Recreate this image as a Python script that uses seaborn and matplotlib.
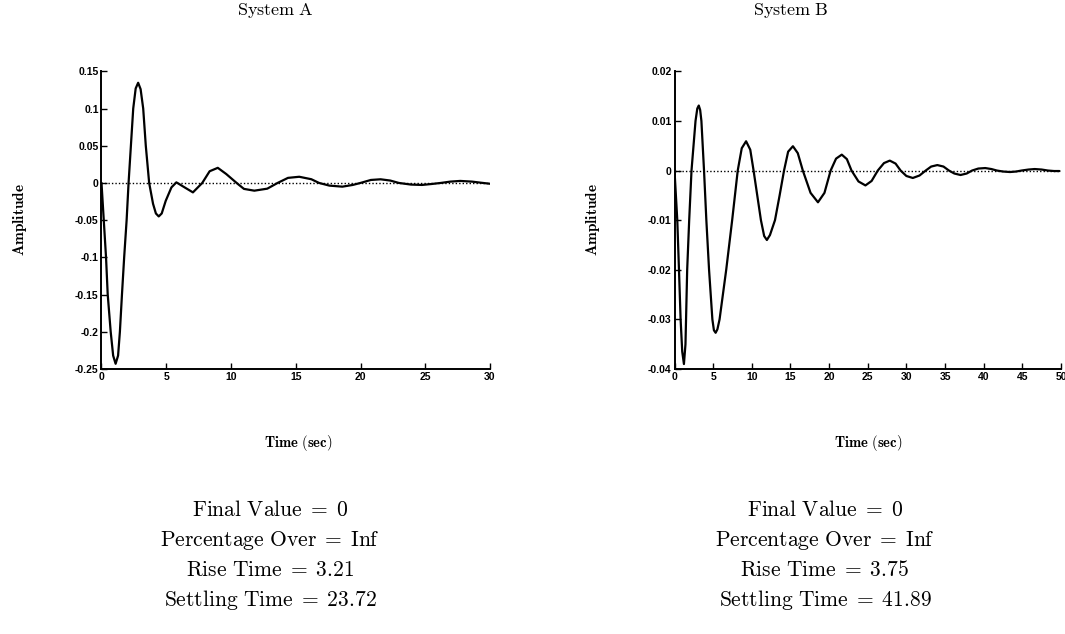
import matplotlib
matplotlib.use("Agg")
import matplotlib.pyplot as plt
import seaborn as sns
import pandas as pd

# ---------------- data ----------------
time_a = [0.0, 0.35, 0.48, 0.71, 0.9, 1.09, 1.28, 1.42, 1.58, 1.75, 1.94, 2.09, 2.27, 2.45,
          2.64, 2.83, 3.02, 3.22, 3.42, 3.68, 3.98, 4.2, 4.42, 4.65, 4.96, 5.4, 5.78, 6.42,
          7.06, 7.78, 8.35, 8.98, 9.63, 10.5, 11.0, 11.8, 12.8, 13.6, 14.4, 15.27, 16.2,
          16.8, 17.6, 18.6, 19.4, 20.0, 20.8, 21.55, 22.3, 22.96, 23.9, 24.75, 25.5, 26.2,
          26.95, 27.7, 28.6, 29.3, 30.0]
amp_a = [0.0, -0.1, -0.15, -0.2, -0.232, -0.243, -0.232, -0.2, -0.15, -0.1, -0.05, 0.0,
         0.05, 0.1, 0.127, 0.1346, 0.126, 0.1, 0.05, 0.0, -0.028, -0.041, -0.045, -0.041,
         -0.024, -0.006, 0.0008, -0.006, -0.0127, 0.0, 0.0157, 0.0203, 0.012, -0.001,
         -0.008, -0.0104, -0.0077, 0.0, 0.0068, 0.0083, 0.005, 0.0, -0.0036, -0.005,
         -0.0027, 0.0, 0.004, 0.0049, 0.0032, 0.0, -0.0022, -0.0027, -0.0014, 0.0, 0.0018,
         0.0027, 0.0018, 0.0003, -0.0011]

time_b = [0.0, 0.36, 0.58, 0.79, 1.0, 1.22, 1.42, 1.64, 1.9, 2.2, 2.72, 2.95, 3.14, 3.32,
          3.48, 3.82, 4.12, 4.47, 4.9, 5.1, 5.32, 5.55, 5.83, 6.69, 7.46, 8.18, 8.7, 9.26,
          9.8, 10.23, 11.18, 11.6, 11.95, 12.35, 13.0, 13.6, 14.17, 14.7, 15.32, 15.95,
          16.6, 17.6, 18.56, 19.4, 20.2, 20.9, 21.64, 22.3, 22.9, 23.8, 24.7, 25.5, 26.3,
          27.1, 27.85, 28.6, 29.25, 30.0, 30.83, 31.7, 32.5, 33.2, 34.0, 34.8, 35.5, 36.2,
          37.0, 37.8, 38.5, 39.3, 40.2, 41.0, 41.7, 42.5, 43.4, 44.2, 44.9, 45.8, 46.6,
          47.5, 48.3, 49.1, 49.8]
amp_b = [0.0, -0.010, -0.020, -0.030, -0.0365, -0.039, -0.035, -0.020, -0.010, 0.0, 0.010,
         0.0125, 0.0131, 0.0122, 0.010, 0.0, -0.010, -0.020, -0.030, -0.0322, -0.0327,
         -0.0320, -0.030, -0.020, -0.010, 0.0, 0.0045, 0.0059, 0.0042, 0.0, -0.010,
         -0.0132, -0.0140, -0.0130, -0.010, -0.005, 0.0, 0.0038, 0.0049, 0.0035, 0.0,
         -0.0045, -0.0064, -0.0045, 0.0, 0.0024, 0.0032, 0.0023, 0.0, -0.0022, -0.0030,
         -0.0021, 0.0, 0.0015, 0.0020, 0.0014, 0.0, -0.0011, -0.0015, -0.0010, 0.0,
         0.0008, 0.0011, 0.0008, 0.0, -0.0006, -0.0009, -0.0006, 0.0, 0.0004, 0.0005,
         0.0003, 0.0, -0.0002, -0.0003, -0.0002, 0.0, 0.0002, 0.0003, 0.0002, 0.0,
         -0.0001, -0.0001]

titles = ["System A", "System B"]
xticks_a = [0, 5, 10, 15, 20, 25, 30]
yticks_a = [-0.25, -0.2, -0.15, -0.1, -0.05, 0, 0.05, 0.1, 0.15]
yticklabels_a = ["-0.25", "-0.2", "-0.15", "-0.1", "-0.05", "0", "0.05", "0.1", "0.15"]
xticks_b = [0, 5, 10, 15, 20, 25, 30, 35, 40, 45, 50]
yticks_b = [-0.04, -0.03, -0.02, -0.01, 0, 0.01, 0.02]
yticklabels_b = ["-0.04", "-0.03", "-0.02", "-0.01", "0", "0.01", "0.02"]

stats_names = ["Final Value", "Percentage Over", "Rise Time", "Settling Time"]
vals_a = ["0", "Inf", "3.21", "23.72"]
vals_b = ["0", "Inf", "3.75", "41.89"]

# ---------------- drawing ----------------
sns.set_style("ticks")
plt.rcParams["mathtext.fontset"] = "cm"
plt.rcParams["font.family"] = ["Liberation Sans", "DejaVu Sans"]

fig = plt.figure(figsize=(10.65, 6.34), dpi=100)
ax_a = fig.add_axes([101.5 / 1065, 1 - 369 / 634, 388.5 / 1065, 297.7 / 634])
ax_b = fig.add_axes([674.5 / 1065, 1 - 369 / 634, 386.5 / 1065, 297.7 / 634])


def mtext(s):
    return r"$\mathrm{" + s.replace(" ", r"\ ") + "}$"


def style(ax, t, a, xt, yt, ytl, xmax):
    ax.axhline(0, color="black", lw=1.0, ls=(0, (1, 1.5)), zorder=1)
    df = pd.DataFrame({"Time": t, "Amplitude": a})
    sns.lineplot(data=df, x="Time", y="Amplitude", ax=ax, color="black", lw=1.6,
                 sort=False, estimator=None, zorder=3)
    ax.set_xlim(0, xmax)
    ax.set_ylim(yt[0], yt[-1])
    ax.set_xticks(xt)
    ax.set_xticklabels([str(v) for v in xt])
    ax.set_yticks(yt)
    ax.set_yticklabels(ytl)
    for side in ["top", "right"]:
        ax.spines[side].set_visible(False)
    for side in ["left", "bottom"]:
        ax.spines[side].set_linewidth(1.4)
        ax.spines[side].set_color("black")
    ax.tick_params(direction="in", length=4, width=1.0, labelsize=7.5, pad=2,
                   colors="black")
    for lab in ax.get_xticklabels() + ax.get_yticklabels():
        lab.set_fontweight("bold")
    ax.set_xlabel("")
    ax.set_ylabel("")


style(ax_a, time_a, amp_a, xticks_a, yticks_a, yticklabels_a, 30)
style(ax_b, time_b, amp_b, xticks_b, yticks_b, yticklabels_b, 50)

W, H = 1065, 634


def ftext(x, y, s, **kw):
    fig.text(x / W, 1 - y / H, s, ha="center", va="center", color="black", **kw)


for cx_title, cx_xl, x_yl, cx_stats, title, vals in [
        (275, 298, 20, 270, titles[0], vals_a),
        (791, 868, 593, 825, titles[1], vals_b)]:
    ftext(cx_title, 10, mtext(title), fontsize=13)
    ftext(cx_xl, 443, r"$\mathbf{Time\ (sec)}$", fontsize=10.5)
    ftext(x_yl, 220, r"$\mathbf{Amplitude}$", fontsize=11, rotation=90)
    for i, (name, v) in enumerate(zip(stats_names, vals)):
        ftext(cx_stats, 510 + 30 * i,
              r"$\mathrm{" + name.replace(" ", r"\ ") + r"}\;=\;\mathrm{" + v + "}$",
              fontsize=15.5)

fig.savefig("out.png", dpi=100)
